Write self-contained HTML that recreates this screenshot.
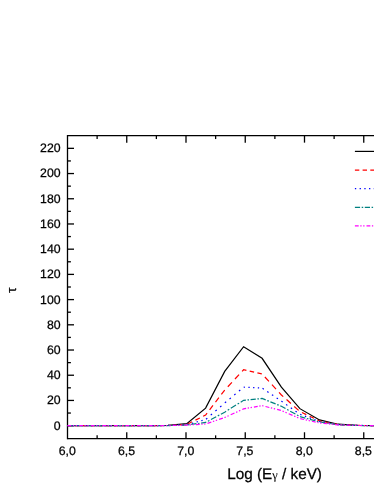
<!DOCTYPE html>
<html><head><meta charset="utf-8"><title>plot</title>
<style>
html,body{margin:0;padding:0;background:#fff;}
body{width:374px;height:484px;overflow:hidden;position:relative;font-family:"Liberation Sans",sans-serif;}
svg{position:absolute;left:0;top:0;will-change:transform;}
text{font-family:"Liberation Sans",sans-serif;fill:#000;stroke:#000;stroke-width:0.25;text-rendering:geometricPrecision;}
</style></head><body>
<svg width="374" height="484" viewBox="0 0 374 484">
<rect x="0" y="0" width="374" height="484" fill="#fff"/>

<g stroke="#000" stroke-width="1.3" fill="none" stroke-linecap="butt">
<path d="M67.5 135.0 V439.2"/>
<path d="M67.5 135.65 H380"/>
<path d="M67.5 438.55 H380"/>
<path d="M67.5 425.65 h6.5"/>
<path d="M67.5 413.04 h3.4"/>
<path d="M67.5 400.44 h6.5"/>
<path d="M67.5 387.83 h3.4"/>
<path d="M67.5 375.23 h6.5"/>
<path d="M67.5 362.62 h3.4"/>
<path d="M67.5 350.02 h6.5"/>
<path d="M67.5 337.41 h3.4"/>
<path d="M67.5 324.81 h6.5"/>
<path d="M67.5 312.20 h3.4"/>
<path d="M67.5 299.60 h6.5"/>
<path d="M67.5 287.00 h3.4"/>
<path d="M67.5 274.39 h6.5"/>
<path d="M67.5 261.78 h3.4"/>
<path d="M67.5 249.18 h6.5"/>
<path d="M67.5 236.57 h3.4"/>
<path d="M67.5 223.97 h6.5"/>
<path d="M67.5 211.36 h3.4"/>
<path d="M67.5 198.76 h6.5"/>
<path d="M67.5 186.15 h3.4"/>
<path d="M67.5 173.55 h6.5"/>
<path d="M67.5 160.94 h3.4"/>
<path d="M67.5 148.34 h6.5"/>
<path d="M97.12 438.55 v-3.2"/>
<path d="M97.12 135.65 v3.4"/>
<path d="M126.75 438.55 v-6.3"/>
<path d="M126.75 135.65 v7.0"/>
<path d="M156.38 438.55 v-3.2"/>
<path d="M156.38 135.65 v3.4"/>
<path d="M186.00 438.55 v-6.3"/>
<path d="M186.00 135.65 v7.0"/>
<path d="M215.62 438.55 v-3.2"/>
<path d="M215.62 135.65 v3.4"/>
<path d="M245.25 438.55 v-6.3"/>
<path d="M245.25 135.65 v7.0"/>
<path d="M274.88 438.55 v-3.2"/>
<path d="M274.88 135.65 v3.4"/>
<path d="M304.50 438.55 v-6.3"/>
<path d="M304.50 135.65 v7.0"/>
<path d="M334.12 438.55 v-3.2"/>
<path d="M334.12 135.65 v3.4"/>
<path d="M363.75 438.55 v-6.3"/>
<path d="M363.75 135.65 v7.0"/>
</g>
<text x="60.6" y="429.55" font-size="12.3" text-anchor="end">0</text>
<text x="60.6" y="404.34" font-size="12.3" text-anchor="end">20</text>
<text x="60.6" y="379.13" font-size="12.3" text-anchor="end">40</text>
<text x="60.6" y="353.92" font-size="12.3" text-anchor="end">60</text>
<text x="60.6" y="328.71" font-size="12.3" text-anchor="end">80</text>
<text x="60.6" y="303.50" font-size="12.3" text-anchor="end">100</text>
<text x="60.6" y="278.29" font-size="12.3" text-anchor="end">120</text>
<text x="60.6" y="253.08" font-size="12.3" text-anchor="end">140</text>
<text x="60.6" y="227.87" font-size="12.3" text-anchor="end">160</text>
<text x="60.6" y="202.66" font-size="12.3" text-anchor="end">180</text>
<text x="60.6" y="177.45" font-size="12.3" text-anchor="end">200</text>
<text x="60.6" y="152.24" font-size="12.3" text-anchor="end">220</text>
<text x="67.2" y="455.1" font-size="12.3" text-anchor="middle">6,0</text>
<text x="126.5" y="455.1" font-size="12.3" text-anchor="middle">6,5</text>
<text x="185.7" y="455.1" font-size="12.3" text-anchor="middle">7,0</text>
<text x="244.9" y="455.1" font-size="12.3" text-anchor="middle">7,5</text>
<text x="304.2" y="455.1" font-size="12.3" text-anchor="middle">8,0</text>
<text x="363.4" y="455.1" font-size="12.3" text-anchor="middle">8,5</text>
<text x="227.2" y="478.9" font-size="15.3">Log (E<tspan font-family="Liberation Serif" font-size="12.4" style="stroke-width:0.05">γ</tspan> / keV)</text>
<text transform="translate(15.8,290.1) rotate(-90) scale(1.08,1)" font-family="Liberation Serif" font-size="13.2" text-anchor="middle" style="stroke-width:0.15">τ</text>
<g fill="none" stroke-width="1.20" stroke-linejoin="miter" stroke-linecap="butt">
<path d="M67.50 425.60L150.00 425.60L168.00 425.47L186.80 423.72L205.60 408.15L224.70 371.36L243.60 346.75L262.10 358.31L281.40 387.18L299.90 408.65L319.50 419.95L338.00 424.22L357.00 425.35L376.00 425.60" stroke="#000000"/>
<path d="M67.50 425.60L71.90 425.60M75.20 425.60L79.60 425.60M82.90 425.60L87.30 425.60M90.60 425.60L95.00 425.60M98.30 425.60L102.70 425.60M106.00 425.60L110.40 425.60M113.70 425.60L118.10 425.60M121.40 425.60L125.80 425.60M129.10 425.60L133.50 425.60M136.80 425.60L141.20 425.60M144.50 425.60L148.90 425.60M152.20 425.58L156.60 425.55M159.90 425.53L164.30 425.50M167.60 425.48L168.00 425.47M168.00 425.47L169.03 425.42M172.33 425.24L176.73 425.01M180.03 424.83L184.43 424.60M187.73 424.00L192.13 421.80M195.43 420.15L199.83 417.94M203.13 416.29L205.60 415.05L207.08 413.12M209.60 409.82L212.96 405.42M215.49 402.12L218.85 397.72M221.37 394.42L224.70 390.07L224.74 390.02M227.81 386.72L231.90 382.32M234.97 379.02L239.05 374.62M242.12 371.32L243.60 369.73L246.41 370.38M249.71 371.14L254.11 372.16M257.41 372.92L261.81 373.93M264.87 377.01L268.92 381.41M271.96 384.71L276.01 389.11M279.05 392.41L281.40 394.97L283.24 396.62M286.54 399.57L290.94 403.51M294.24 406.47L298.64 410.41M301.94 412.52L306.34 414.63M309.64 416.22L314.04 418.33M317.34 419.92L319.50 420.95L321.74 421.38M325.04 422.01L329.44 422.84M332.74 423.47L337.14 424.31M340.44 424.59L344.84 424.81M348.14 424.97L352.54 425.19M355.84 425.35L357.00 425.41L360.24 425.44M363.54 425.48L367.94 425.52M371.24 425.55L375.64 425.60" stroke="#ff0000"/>
<path d="M67.50 425.60L68.80 425.60M72.21 425.60L73.51 425.60M76.92 425.60L78.22 425.60M81.63 425.60L82.93 425.60M86.34 425.60L87.64 425.60M91.05 425.60L92.35 425.60M95.76 425.60L97.06 425.60M100.47 425.60L101.77 425.60M105.18 425.60L106.48 425.60M109.89 425.60L111.19 425.60M114.60 425.60L115.90 425.60M119.31 425.60L120.61 425.60M124.02 425.60L125.32 425.60M128.73 425.60L130.03 425.60M133.44 425.60L134.74 425.60M138.15 425.60L139.45 425.60M142.86 425.60L144.16 425.60M147.57 425.60L148.87 425.60M152.28 425.58L153.58 425.58M156.99 425.55L158.29 425.54M161.70 425.52L163.00 425.51M166.41 425.49L167.71 425.48M168.33 425.46L169.63 425.41M173.04 425.27L174.34 425.22M177.75 425.08L179.05 425.03M182.46 424.90L183.76 424.84M187.17 424.62L188.47 424.26M191.88 423.33L193.18 422.97M196.59 422.04L197.89 421.68M201.30 420.75L202.60 420.40M206.01 419.22L207.31 418.09M210.72 415.13L212.02 414.00M215.43 411.04L216.73 409.92M220.14 406.96L221.44 405.83M224.85 402.88L226.15 401.79M229.56 398.93L230.86 397.85M234.27 394.99L235.57 393.90M238.98 391.05L240.28 389.96M243.69 387.19L244.99 387.24M248.40 387.39L249.70 387.45M253.11 387.60L254.41 387.66M257.82 387.81L259.12 387.87M262.53 388.29L263.83 389.17M267.24 391.49L268.54 392.38M271.95 394.69L273.25 395.58M276.66 397.90L277.96 398.78M281.37 401.10L281.40 401.12L282.67 402.02M286.08 404.45L287.38 405.38M290.79 407.81L292.09 408.74M295.50 411.17L296.80 412.09M300.21 414.41L301.51 414.89M304.92 416.13L306.22 416.61M309.63 417.85L310.93 418.33M314.34 419.57L315.64 420.05M319.05 421.29L319.50 421.46L320.35 421.60M323.76 422.18L325.06 422.40M328.47 422.98L329.77 423.20M333.18 423.78L334.48 424.00M337.89 424.58L338.00 424.60L339.19 424.65M342.60 424.79L343.90 424.85M347.31 425.00L348.61 425.05M352.02 425.20L353.32 425.25M356.73 425.40L357.00 425.41L358.03 425.42M361.44 425.46L362.74 425.47M366.15 425.50L367.45 425.52M370.86 425.55L372.16 425.56M375.57 425.60L376.00 425.60" stroke="#0000ff"/>
<path d="M67.50 425.60L72.70 425.60M74.30 425.60L75.80 425.60M77.40 425.60L82.60 425.60M84.20 425.60L85.70 425.60M87.30 425.60L92.50 425.60M94.10 425.60L95.60 425.60M97.20 425.60L102.40 425.60M104.00 425.60L105.50 425.60M107.10 425.60L112.30 425.60M113.90 425.60L115.40 425.60M117.00 425.60L122.20 425.60M123.80 425.60L125.30 425.60M126.90 425.60L132.10 425.60M133.70 425.60L135.20 425.60M136.80 425.60L142.00 425.60M143.60 425.60L145.10 425.60M146.70 425.60L150.00 425.60L151.90 425.60M153.50 425.60L155.00 425.60M156.60 425.60L161.80 425.60M163.40 425.60L164.90 425.60M166.50 425.60L168.00 425.60M168.30 425.59L169.80 425.54M171.40 425.49L176.60 425.31M178.20 425.26L179.70 425.21M181.30 425.16L186.50 424.98M188.10 424.80L189.60 424.60M191.20 424.38L196.40 423.69M198.00 423.48L199.50 423.28M201.10 423.06L205.60 422.46L206.30 422.08M207.90 421.22L209.40 420.41M211.00 419.55L216.20 416.75M217.80 415.89L219.30 415.08M220.90 414.21L224.70 412.17L226.10 411.29M227.70 410.29L229.20 409.36M230.80 408.36L236.00 405.11M237.60 404.11L239.10 403.17M240.70 402.18L243.60 400.36L245.90 400.13M247.50 399.97L249.00 399.81M250.60 399.65L255.80 399.12M257.40 398.96L258.90 398.81M260.50 398.64L262.10 398.48L265.70 399.93M267.30 400.58L268.80 401.18M270.40 401.83L275.60 403.93M277.20 404.57L278.70 405.18M280.30 405.82L281.40 406.27L285.50 408.55M287.10 409.44L288.60 410.27M290.20 411.16L295.40 414.06M297.00 414.95L298.50 415.78M300.10 416.62L305.30 418.05M306.90 418.49L308.40 418.90M310.00 419.34L315.20 420.77M316.80 421.22L318.30 421.63M319.90 422.02L325.10 422.80M326.70 423.03L328.20 423.26M329.80 423.50L335.00 424.27M336.60 424.51L338.00 424.72L338.10 424.73M339.70 424.79L344.90 424.99M346.50 425.06L348.00 425.12M349.60 425.18L354.80 425.39M356.40 425.45L357.00 425.47L357.90 425.48M359.50 425.49L364.70 425.53M366.30 425.54L367.80 425.55M369.40 425.56L374.60 425.59" stroke="#008080"/>
<path d="M67.50 425.60L71.30 425.60M72.90 425.60L74.20 425.60M75.80 425.60L77.10 425.60M79.10 425.60L82.90 425.60M84.50 425.60L85.80 425.60M87.40 425.60L88.70 425.60M90.70 425.60L94.50 425.60M96.10 425.60L97.40 425.60M99.00 425.60L100.30 425.60M102.30 425.60L106.10 425.60M107.70 425.60L109.00 425.60M110.60 425.60L111.90 425.60M113.90 425.60L117.70 425.60M119.30 425.60L120.60 425.60M122.20 425.60L123.50 425.60M125.50 425.60L129.30 425.60M130.90 425.60L132.20 425.60M133.80 425.60L135.10 425.60M137.10 425.60L140.90 425.60M142.50 425.60L143.80 425.60M145.40 425.60L146.70 425.60M148.70 425.60L150.00 425.60L152.50 425.60M154.10 425.60L155.40 425.60M157.00 425.60L158.30 425.60M160.30 425.60L164.10 425.60M165.70 425.60L167.00 425.60M169.40 425.56L170.70 425.53M172.70 425.47L176.50 425.37M178.10 425.33L179.40 425.30M181.00 425.25L182.30 425.22M184.30 425.16L186.80 425.10L188.10 425.02M189.70 424.92L191.00 424.85M192.60 424.75L193.90 424.67M195.90 424.55L199.70 424.32M201.30 424.23L202.60 424.15M204.20 424.05L205.50 423.97M207.50 423.33L211.30 422.06M212.90 421.52L214.20 421.08M215.80 420.55L217.10 420.11M219.10 419.44L222.90 418.17M224.50 417.63L224.70 417.56L225.80 417.06M227.40 416.33L228.70 415.73M230.70 414.81L234.50 413.07M236.10 412.34L237.40 411.74M239.00 411.01L240.30 410.41M242.30 409.50L243.60 408.90L246.10 408.46M247.70 408.18L249.00 407.95M250.60 407.67L251.90 407.44M253.90 407.08L257.70 406.41M259.30 406.13L260.60 405.90M262.20 405.66L263.50 405.99M265.50 406.50L269.30 407.46M270.90 407.87L272.20 408.20M273.80 408.61L275.10 408.94M277.10 409.44L280.90 410.41M282.50 411.01L283.80 411.58M285.40 412.27L286.70 412.84M288.70 413.70L292.50 415.36M294.10 416.05L295.40 416.61M297.00 417.31L298.30 417.87M300.30 418.66L304.10 419.51M305.70 419.87L307.00 420.16M308.60 420.52L309.90 420.81M311.90 421.26L315.70 422.11M317.30 422.47L318.60 422.76M320.20 423.03L321.50 423.17M323.50 423.37L327.30 423.76M328.90 423.92L330.20 424.05M331.80 424.22L333.10 424.35M335.10 424.55L338.00 424.85L338.90 424.88M340.50 424.93L341.80 424.97M343.40 425.03L344.70 425.07M346.70 425.13L350.50 425.26M352.10 425.31L353.40 425.36M355.00 425.41L356.30 425.45M358.30 425.48L362.10 425.51M363.70 425.52L365.00 425.53M366.60 425.54L367.90 425.55M369.90 425.56L373.70 425.58M375.30 425.60L376.00 425.60" stroke="#ff00ff"/>
<path d="M354.9 151.4H380" stroke="#000000"/>
<path d="M354.90 170.10L359.30 170.10M362.60 170.10L367.00 170.10M370.30 170.10L374.70 170.10M378.00 170.10L380.00 170.10" stroke="#ff0000"/>
<path d="M354.90 188.70L356.20 188.70M359.61 188.70L360.91 188.70M364.32 188.70L365.62 188.70M369.03 188.70L370.33 188.70M373.74 188.70L375.04 188.70M378.45 188.70L379.75 188.70" stroke="#0000ff"/>
<path d="M354.90 207.30L360.10 207.30M361.70 207.30L363.20 207.30M364.80 207.30L370.00 207.30M371.60 207.30L373.10 207.30M374.70 207.30L379.90 207.30" stroke="#008080"/>
<path d="M354.90 225.90L358.70 225.90M360.30 225.90L361.60 225.90M363.20 225.90L364.50 225.90M366.50 225.90L370.30 225.90M371.90 225.90L373.20 225.90M374.80 225.90L376.10 225.90M378.10 225.90L380.00 225.90" stroke="#ff00ff"/>
</g>
</svg></body></html>
